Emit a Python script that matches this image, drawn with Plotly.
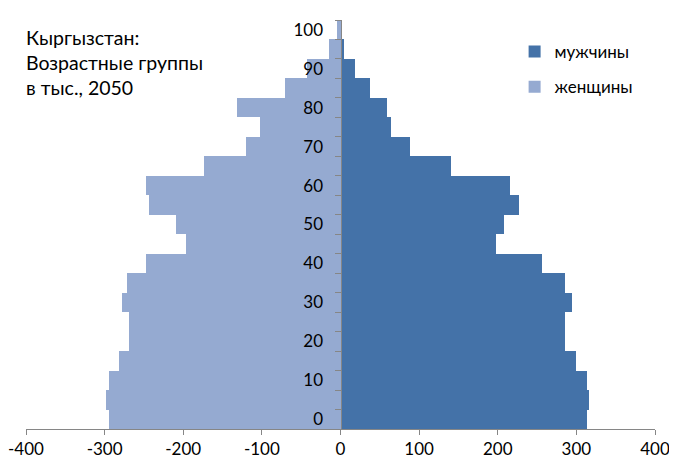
import plotly.graph_objects as go

# Age groups 0-4 ... 100+ (index 0..20)
age_positions = list(range(21))
age_tick_positions = [0, 2, 4, 6, 8, 10, 12, 14, 16, 18, 20]
age_tick_labels = ["0", "10", "20", "30", "40", "50", "60", "70", "80", "90", "100"]
age_boundaries = [i - 0.5 for i in range(22)]

# values in thousands
men = [313, 316, 313, 300, 285, 285, 294, 285, 256, 198, 208, 227, 216, 141,
       89, 64, 59, 37, 18, 4, 1]
women = [295, 298, 294, 282, 269, 269, 278, 272, 248, 196, 209, 243, 248, 174,
         120, 102, 132, 70, 43, 14, 4]

x_tick_vals = [-400, -300, -200, -100, 0, 100, 200, 300, 400]
x_tick_labels = ["-400", "-300", "-200", "-100", "0", "100", "200", "300", "400"]

title_lines = ["Кыргызстан:", "Возрастные группы", "в тыс., 2050"]
series_names = ["мужчины", "женщины"]

MEN_COLOR = "#4472A8"
WOMEN_COLOR = "#95AAD1"
AXIS_COLOR = "#868686"
FONT = "Lato"

fig = go.Figure()
fig.add_trace(go.Bar(
    y=age_positions, x=men, orientation="h", name=series_names[0],
    marker=dict(color=MEN_COLOR, line=dict(width=0)), width=1,
    legendgroup="m",
))
fig.add_trace(go.Bar(
    y=age_positions, x=[-v for v in women], orientation="h", name=series_names[1],
    marker=dict(color=WOMEN_COLOR, line=dict(width=0)), width=1,
    legendgroup="w",
))

fig.update_layout(
    width=677, height=472,
    margin=dict(l=18, r=30, t=12, b=51, autoexpand=False),
    paper_bgcolor="white", plot_bgcolor="white",
    barmode="relative", bargap=0,
    font=dict(family=FONT, size=17, color="#000000"),
    showlegend=True,
    legend=dict(
        x=0.7768, y=395 / 409, xanchor="left", yanchor="top",
        font=dict(family=FONT, size=17, color="#000000"),
        traceorder="grouped", tracegroupgap=10, itemwidth=30,
        bgcolor="rgba(0,0,0,0)",
    ),
    xaxis=dict(
        range=[-400, 400], tickmode="array", tickvals=x_tick_vals,
        ticktext=x_tick_labels, ticks="outside", ticklen=5, tickcolor=AXIS_COLOR,
        showline=True, linecolor=AXIS_COLOR, linewidth=1,
        showgrid=False, zeroline=False, fixedrange=True, automargin=False,
        tickfont=dict(family=FONT, size=17),
    ),
    yaxis=dict(
        range=[-0.5, 20.5], anchor="free", position=0.5, side="left",
        tickmode="array", tickvals=age_tick_positions, ticktext=age_tick_labels,
        ticks="outside", ticklen=14, tickcolor="rgba(0,0,0,0)",
        showline=True, linecolor=AXIS_COLOR, linewidth=1,
        showgrid=False, zeroline=False, fixedrange=True, automargin=False,
        tickfont=dict(family=FONT, size=17),
        minor=dict(tickmode="array", tickvals=age_boundaries, ticks="outside",
                   ticklen=6, tickcolor=AXIS_COLOR, showgrid=False),
    ),
)

title_y = [37, 62, 87]
for line, py in zip(title_lines, title_y):
    fig.add_annotation(
        text=line, xref="paper", yref="paper",
        x=(24 - 26) / 629, y=1 - (py - 20) / 409,
        xanchor="left", yanchor="middle", showarrow=False,
        font=dict(family=FONT, size=19.5, color="#000000"),
    )

fig.write_html("out.html")
